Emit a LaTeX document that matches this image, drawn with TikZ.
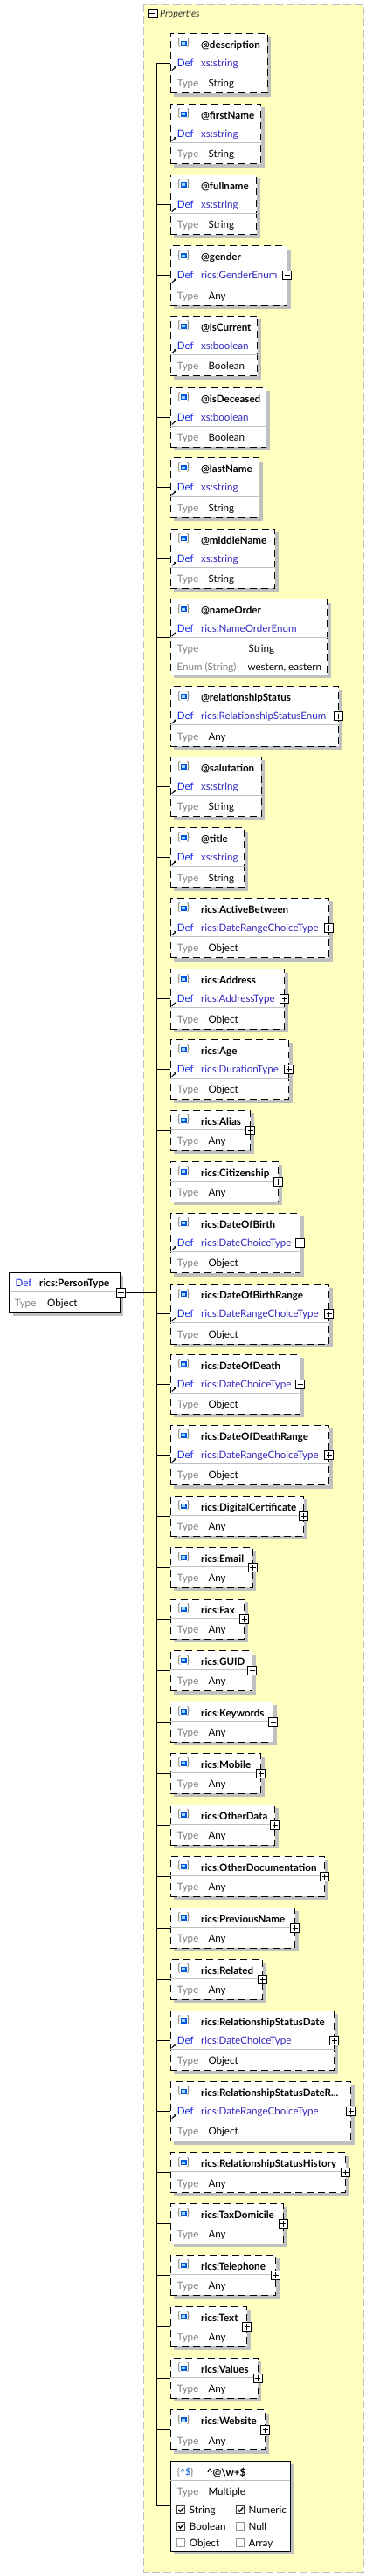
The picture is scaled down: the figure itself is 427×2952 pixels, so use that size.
\documentclass[tikz,border=0pt]{standalone}
\usepackage{fontspec}
\setmainfont{Lato}
\usetikzlibrary{shadows,arrows.meta}
\definecolor{propyellow}{RGB}{255,255,192}
\definecolor{propgray}{RGB}{192,192,192}
\definecolor{shgray}{RGB}{192,192,192}
\definecolor{sepgray}{RGB}{192,192,192}
\definecolor{defblue}{RGB}{20,40,230}
\definecolor{defval}{RGB}{50,40,190}
\definecolor{typegray}{RGB}{128,128,128}
\definecolor{icblue}{RGB}{0,90,220}
\definecolor{iclight}{RGB}{170,210,255}
\definecolor{icgray}{RGB}{120,120,120}
\tikzset{
  elbox/.style={draw=black, line width=1pt, dash pattern=on 8pt off 5pt, fill=white,
    drop shadow={shadow xshift=4pt, shadow yshift=-4pt, fill=shgray, opacity=1},
    inner sep=0, outer sep=0, anchor=north west},
  solidbox/.style={elbox, solid},
  sepline/.style={draw=sepgray, line width=1pt},
  ttl/.style={anchor=base west, inner sep=0, font=\fontsize{11.6}{14}\selectfont\bfseries},
  dlab/.style={anchor=base west, inner sep=0, text=defblue},
  dval/.style={anchor=base west, inner sep=0, text=defval},
  tlab/.style={anchor=base west, inner sep=0, text=typegray},
  tval/.style={anchor=base west, inner sep=0, text=black},
  brace/.style={anchor=base west, inner sep=0, text=icgray},
  sq/.style={draw=icblue, fill=iclight, line width=1.4pt, minimum width=5.5pt, minimum height=4.5pt, inner sep=0},
  refarrow/.style={line width=1pt, -{Triangle[length=2.6pt,width=3pt]}},
  conn/.style={draw=black, line width=1pt},
  plusbox/.style={draw=black, fill=white, line width=0.9pt, minimum width=10pt, minimum height=10pt, inner sep=0, outer sep=0},
  cbox/.style={draw=black!75, fill=white, line width=0.8pt, minimum width=9pt, minimum height=9pt, inner sep=0},
  cboxoff/.style={cbox, draw=black!40},
  tick/.style={line width=1.4pt, draw=black}
}
\newcommand\plusat[1]{%
  \node[plusbox] (#1-p) at (#1.east) {};
  \draw[line width=0.9pt] ([xshift=-3.2pt]#1-p.center) -- ([xshift=3.2pt]#1-p.center);
  \draw[line width=0.9pt] ([yshift=-3.2pt]#1-p.center) -- ([yshift=3.2pt]#1-p.center);
}
\newcommand\elIcon[1]{%
  \node[brace] (#1-ib1) at ([xshift=7.8pt,yshift=-14.6pt]#1.north west) {\{};
  \node[brace] (#1-ib2) at ([xshift=18.2pt,yshift=-14.6pt]#1.north west) {\}};
  \node[sq] (#1-is) at ([xshift=14.9pt,yshift=-11.4pt]#1.north west) {};
}
\newcommand\elThree[6]{%
  \node[elbox, minimum width={#3-195.3}, minimum height=68.4] (#1) at (195.3,#2) {};
  \draw[sepline] ([yshift=-44pt]#1.north west) -- ([yshift=-44pt]#1.north east);
  \elIcon{#1}%
  \node[ttl] (#1-n) at ([xshift=34.7pt,yshift=-17pt]#1.north west) {#4};
  \node[dlab] (#1-dl) at ([xshift=7.4pt,yshift=-38pt]#1.north west) {Def};
  \node[dval] (#1-dv) at ([xshift=34.7pt,yshift=-38pt]#1.north west) {#5};
  \node[tlab] (#1-tl) at ([xshift=7.4pt,yshift=-61.3pt]#1.north west) {Type};
  \node[tval] (#1-tv) at ([xshift=43pt,yshift=-61.3pt]#1.north west) {#6};
  \draw[refarrow] ([xshift=1.4pt,yshift=-42.4pt]#1.north west) -- ([xshift=6.7pt,yshift=-37.7pt]#1.north west);
  \coordinate (#1-j) at (179.5,#2+34.2);
  \draw[conn] (#1-j) -- (#1.west);
}
\newcommand\elTwo[4]{%
  \node[elbox, minimum width={#3-195.3}, minimum height=46] (#1) at (195.3,#2) {};
  \draw[sepline] ([yshift=-22pt]#1.north west) -- ([yshift=-22pt]#1.north east);
  \elIcon{#1}%
  \node[ttl] (#1-n) at ([xshift=34.7pt,yshift=-17pt]#1.north west) {#4};
  \node[tlab] (#1-tl) at ([xshift=7.4pt,yshift=-39.3pt]#1.north west) {Type};
  \node[tval] (#1-tv) at ([xshift=43pt,yshift=-39.3pt]#1.north west) {Any};
  \coordinate (#1-j) at (179.5,#2+23);
  \draw[conn] (#1-j) -- (#1.west);
  \plusat{#1}%
}
\begin{document}
\begin{tikzpicture}[x=1pt,y=-1pt,font=\fontsize{11.6}{14}\selectfont]
\useasboundingbox (0,0) rectangle (427,2952);
\fill[white] (0,0) rectangle (427,2952);
% Properties container
\path[draw=propgray, fill=propyellow, line width=1pt, dash pattern=on 9pt off 4pt] (164.5,5.5) rectangle (416.3,2947);
\node[plusbox, minimum width=11pt] (propm) at (174.5,15.7) {};
\draw[line width=0.9pt] ([xshift=-3.5pt]propm.center) -- ([xshift=3.5pt]propm.center);
\node[anchor=base west, inner sep=0, font=\fontsize{10.8}{13}\selectfont\itshape, text=black!80] (proplbl) at (183,20) {Properties};

% bus (drawn first, under boxes)
\coordinate (busTop) at (179.5,72.5);
\coordinate (busBot) at (179.5,2871.8);
\draw[conn] (busTop) -- (busBot);

% root
\node[solidbox, minimum width=126.6, minimum height=45.7] (root) at (10.7,1458.3) {};
\draw[sepline] ([yshift=-22pt]root.north west) -- ([yshift=-22pt]root.north east);
\node[dlab] (root-dl) at ([xshift=6.6pt,yshift=-16pt]root.north west) {Def};
\node[ttl] (root-n) at ([xshift=34.3pt,yshift=-16pt]root.north west) {rics:PersonType};
\node[tlab] (root-tl) at ([xshift=6pt,yshift=-39.3pt]root.north west) {Type};
\node[tval] (root-tv) at ([xshift=43.3pt,yshift=-39.3pt]root.north west) {Object};
\node[plusbox] (rootm) at (138.3,1481.7) {};
\draw[line width=0.9pt] ([xshift=-3.2pt]rootm.center) -- ([xshift=3.2pt]rootm.center);
\coordinate (rootj) at (179.5,1481.7);
\draw[conn] (rootm.east) -- (rootj);

% children
\elThree{description}{38.3}{306}{@description}{xs:string}{String}
\elThree{firstName}{119.3}{298.7}{@firstName}{xs:string}{String}
\elThree{fullname}{200.3}{293.7}{@fullname}{xs:string}{String}
\elThree{gender}{281.7}{328.7}{@gender}{rics:GenderEnum}{Any}\plusat{gender}
\elThree{isCurrent}{362.3}{294.7}{@isCurrent}{xs:boolean}{Boolean}
\elThree{isDeceased}{444}{304.7}{@isDeceased}{xs:boolean}{Boolean}
\elThree{lastName}{524.7}{296.7}{@lastName}{xs:string}{String}
\elThree{middleName}{606}{314.7}{@middleName}{xs:string}{String}

% nameOrder (4 rows)
\node[elbox, minimum width={374.7-195.3}, minimum height=86.6] (nameOrder) at (195.3,686.7) {};
\draw[sepline] ([yshift=-44pt]nameOrder.north west) -- ([yshift=-44pt]nameOrder.north east);
\elIcon{nameOrder}
\node[ttl] (nameOrder-n) at ([xshift=34.7pt,yshift=-17pt]nameOrder.north west) {@nameOrder};
\node[dlab] (nameOrder-dl) at ([xshift=7.4pt,yshift=-38pt]nameOrder.north west) {Def};
\node[dval] (nameOrder-dv) at ([xshift=34.7pt,yshift=-38pt]nameOrder.north west) {rics:NameOrderEnum};
\node[tlab] (nameOrder-tl) at ([xshift=7.4pt,yshift=-60.9pt]nameOrder.north west) {Type};
\node[tval] (nameOrder-tv) at ([xshift=89pt,yshift=-60.9pt]nameOrder.north west) {String};
\node[tlab] (nameOrder-el) at ([xshift=7pt,yshift=-81.6pt]nameOrder.north west) {Enum (String)};
\node[tval] (nameOrder-ev) at ([xshift=88pt,yshift=-81.6pt]nameOrder.north west) {western, eastern};
\draw[refarrow] ([xshift=1.4pt,yshift=-42.4pt]nameOrder.north west) -- ([xshift=6.7pt,yshift=-37.7pt]nameOrder.north west);
\coordinate (nameOrder-j) at (179.5,730);
\draw[conn] (nameOrder-j) -- (nameOrder.west);

\elThree{relationshipStatus}{786.7}{387.7}{@relationshipStatus}{rics:RelationshipStatusEnum}{Any}\plusat{relationshipStatus}
\elThree{salutation}{867.3}{299.3}{@salutation}{xs:string}{String}
\elThree{title}{948.7}{279.7}{@title}{xs:string}{String}
\elThree{activeBetween}{1029.3}{376.7}{rics:ActiveBetween}{rics:DateRangeChoiceType}{Object}\plusat{activeBetween}
\elThree{address}{1110.7}{325.7}{rics:Address}{rics:AddressType}{Object}\plusat{address}
\elThree{age}{1191.3}{330.7}{rics:Age}{rics:DurationType}{Object}\plusat{age}
\elTwo{alias}{1272.3}{286.7}{rics:Alias}
\elTwo{citizenship}{1331.3}{318.7}{rics:Citizenship}
\elThree{dob}{1390.3}{343.7}{rics:DateOfBirth}{rics:DateChoiceType}{Object}\plusat{dob}
\elThree{dobRange}{1471.7}{376.7}{rics:DateOfBirthRange}{rics:DateRangeChoiceType}{Object}\plusat{dobRange}
\elThree{dod}{1552}{343.7}{rics:DateOfDeath}{rics:DateChoiceType}{Object}\plusat{dod}
\elThree{dodRange}{1633.3}{376.7}{rics:DateOfDeathRange}{rics:DateRangeChoiceType}{Object}\plusat{dodRange}
\elTwo{digitalCert}{1714.3}{347.7}{rics:DigitalCertificate}
\elTwo{email}{1773.3}{289.3}{rics:Email}
\elTwo{fax}{1832.3}{279.7}{rics:Fax}
\elTwo{guid}{1891.5}{288.7}{rics:GUID}
\elTwo{keywords}{1950.3}{312.7}{rics:Keywords}
\elTwo{mobile}{2009.3}{298.7}{rics:Mobile}
\elTwo{otherData}{2068.3}{314.7}{rics:OtherData}
\elTwo{otherDoc}{2127.3}{371.7}{rics:OtherDocumentation}
\elTwo{previousName}{2186.3}{337.7}{rics:PreviousName}
\elTwo{related}{2245.3}{300.7}{rics:Related}
\elThree{relStatusDate}{2304.3}{382.7}{rics:RelationshipStatusDate}{rics:DateChoiceType}{Object}\plusat{relStatusDate}
\elThree{relStatusDateR}{2385.3}{401.7}{rics:RelationshipStatusDateR...}{rics:DateRangeChoiceType}{Object}\plusat{relStatusDateR}
\elTwo{relStatusHist}{2466.7}{395.7}{rics:RelationshipStatusHistory}
\elTwo{taxDomicile}{2525.3}{324}{rics:TaxDomicile}
\elTwo{telephone}{2584.3}{315.7}{rics:Telephone}
\elTwo{text}{2643.3}{282.7}{rics:Text}
\elTwo{values}{2702.3}{295}{rics:Values}
\elTwo{website}{2761.7}{303.7}{rics:Website}

% pattern box
\node[solidbox, minimum width={332.3-195.3}, minimum height=103] (pattern) at (195.3,2820.3) {};
\draw[sepline] ([yshift=-22pt]pattern.north west) -- ([yshift=-22pt]pattern.north east);
\node[brace, font=\fontsize{10.5}{12}\selectfont] (pattern-ic) at ([xshift=7.4pt,yshift=-16.5pt]pattern.north west) {\{\textcolor{icblue}{\textasciicircum\$}\}};
\node[ttl] (pattern-n) at ([xshift=41.4pt,yshift=-17pt]pattern.north west) {\textasciicircum@\textbackslash w+\$};
\node[tlab] (pattern-tl) at ([xshift=7.4pt,yshift=-39pt]pattern.north west) {Type};
\node[tval] (pattern-tv) at ([xshift=43pt,yshift=-39pt]pattern.north west) {Multiple};
\coordinate (pattern-j) at (179.5,2871.8);
\draw[conn] (pattern-j) -- (pattern.west);
% checkboxes
\node[cbox] (cb1) at (207.3,2876) {};
\node[cbox] (cb2) at (275.3,2876) {};
\node[cbox] (cb3) at (207.3,2895) {};
\node[cboxoff] (cb4) at (275.3,2895) {};
\node[cboxoff] (cb5) at (207.3,2913.7) {};
\node[cboxoff] (cb6) at (275.3,2913.7) {};
\foreach \c in {cb1,cb2,cb3}{
  \draw[tick] ([xshift=-2.8pt,yshift=0.2pt]\c.center) -- ([xshift=-0.9pt,yshift=-2.2pt]\c.center) -- ([xshift=2.9pt,yshift=2.6pt]\c.center);
}
\node[tval] (cb1-l) at (216.7,2880.3) {String};
\node[tval] (cb2-l) at (284.3,2880.3) {Numeric};
\node[tval] (cb3-l) at (216.7,2899.3) {Boolean};
\node[tval] (cb4-l) at (284.3,2899.3) {Null};
\node[tval] (cb5-l) at (216.7,2918) {Object};
\node[tval] (cb6-l) at (284.3,2918) {Array};
\end{tikzpicture}
\end{document}
